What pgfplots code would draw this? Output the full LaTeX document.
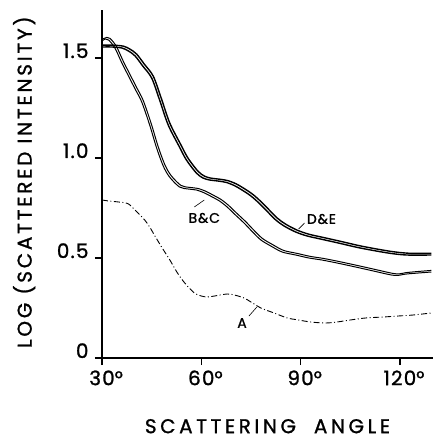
\documentclass[border=0pt]{standalone}
\usepackage{fontspec}
\setmainfont{Poppins}
\newfontfamily\tickfont[LetterSpace=6,FakeBold=1.2]{Poppins}
\newfontfamily\xlabfont[LetterSpace=18,FakeBold=1.2]{Poppins}
\newfontfamily\ylabfont[LetterSpace=14,FakeBold=1.2]{Poppins}
\usepackage{pgfplots}
\pgfplotsset{compat=1.18}

\begin{document}
\begin{tikzpicture}
\begin{axis}[
    scale only axis, width=331bp, height=348bp,
    at={(0,0)}, anchor=south west,
    xmin=30, xmax=130, ymin=0, ymax=1.74,
    axis lines*=left,
    axis line style={line width=2.4pt},
    xtick={30,60,90,120}, ytick={0,0.5,1,1.5},
    xticklabels={30\rlap{°},60\rlap{°},90\rlap{°},120\rlap{°}},
    yticklabels={0,0.5,1.0,1.5},
    tick align=outside, major tick length=7bp,
    tick style={line width=1.4pt, black},
    xticklabel style={font=\fontsize{20}{20}\selectfont\tickfont, yshift=-2bp},
    yticklabel style={font=\fontsize{20}{20}\selectfont\tickfont, anchor=base east, xshift=-3bp},
    xlabel={SCATTERING\hspace{0.9em}ANGLE},
    xlabel style={font=\fontsize{20}{20}\selectfont\xlabfont, inner sep=0pt,
        at={(axis description cs:0.5,-0.196)}, anchor=center},
    ylabel={LOG (SCATTERED INTENSITY)},
    ylabel style={font=\fontsize{20}{20}\selectfont\ylabfont, inner sep=0pt,
        at={(axis description cs:-0.235,0.505)}, anchor=center, rotate=0},
    every axis plot/.append style={black, smooth, tension=0.5},
]
% D & E
\addplot[line width=1.4pt] coordinates {
(30,1.555)(33,1.555)(36,1.55)(38,1.535)(40,1.51)(42.3,1.46)(45,1.40)(47.4,1.29)(50,1.165)
(53.4,1.055)(55.5,0.99)(58.5,0.925)(60.5,0.90)(62.5,0.89)(65,0.885)(67.5,0.878)(70,0.862)
(72.3,0.84)(75,0.81)(77.4,0.775)(79.5,0.74)(82.5,0.69)(85,0.66)(88.5,0.63)(92,0.61)
(96,0.595)(101.4,0.575)(108,0.55)(116.4,0.525)(122,0.515)(129.5,0.515)};
\addplot[line width=1.4pt] coordinates {
(30,1.564)(33.5,1.564)(36.5,1.559)(38.5,1.544)(40.5,1.519)(42.8,1.469)(45.5,1.409)
(47.9,1.299)(50.5,1.174)(53.9,1.064)(56.0,0.999)(59.0,0.934)(61.0,0.909)(63.0,0.899)
(65.5,0.894)(68.0,0.887)(70.5,0.871)(72.8,0.849)(75.5,0.819)(77.9,0.784)(80.0,0.749)
(83.0,0.699)(85.5,0.669)(89.0,0.639)(92.5,0.619)(96.5,0.604)(101.9,0.584)(108.5,0.559)
(116.9,0.534)(122.5,0.524)(129.5,0.523)};
% B & C
\addplot[line width=1pt] coordinates {
(30,1.585)(31,1.595)(32,1.59)(33.9,1.55)(36,1.475)(38,1.41)(40,1.345)(42,1.28)(44.4,1.165)
(46.5,1.05)(48.5,0.96)(50.4,0.905)(53.4,0.855)(56,0.845)(58.5,0.84)(61,0.825)(63.3,0.805)
(65.5,0.785)(67.8,0.755)(70,0.72)(72.9,0.675)(75.5,0.63)(78,0.59)(81,0.56)(84.4,0.53)
(88.5,0.515)(92.5,0.50)(96.4,0.49)(101,0.475)(106.6,0.455)(112,0.435)(117.4,0.415)
(119.5,0.413)(122,0.42)(129.5,0.43)};
\addplot[line width=1pt] coordinates {
(30,1.593)(31.45,1.603)(32.45,1.598)(34.35,1.558)(36.45,1.483)(38.45,1.418)(40.45,1.353)
(42.45,1.288)(44.85,1.173)(46.95,1.058)(48.95,0.968)(50.85,0.913)(53.85,0.863)(56.45,0.853)
(58.95,0.848)(61.45,0.833)(63.75,0.813)(65.95,0.793)(68.25,0.763)(70.45,0.728)(73.35,0.683)
(75.95,0.638)(78.45,0.598)(81.45,0.568)(84.85,0.538)(88.95,0.523)(92.95,0.508)(96.85,0.498)
(101.45,0.483)(107.05,0.463)(112.45,0.443)(117.85,0.423)(119.95,0.421)(122.45,0.428)(129.5,0.438)};
% A
\addplot[line width=0.9pt, dash pattern=on 6bp off 2.5bp on 1bp off 2.5bp] coordinates {
(30,0.79)(32,0.785)(35,0.78)(37.8,0.772)(40,0.74)(42.9,0.69)(44.4,0.655)(46,0.61)(48,0.555)
(50.5,0.49)(52.8,0.425)(55,0.375)(57.9,0.325)(60,0.31)(61.8,0.305)(64,0.31)(67.8,0.32)
(70,0.315)(72.9,0.30)(75,0.28)(78,0.25)(82,0.225)(86,0.20)(89.4,0.19)(93,0.18)(97.5,0.175)
(101,0.18)(105,0.19)(109.6,0.20)(115,0.205)(119.5,0.21)(124,0.215)(129.5,0.225)};
% labels
\node[font=\fontsize{14}{14}\selectfont\tickfont] at (axis cs:60.9,0.70) {B\&C};
\draw[line width=0.6pt] (axis cs:57.9,0.755) -- (axis cs:60.9,0.79);
\node[font=\fontsize{14}{14}\selectfont\tickfont] at (axis cs:96.3,0.695) {D\&E};
\draw[line width=0.6pt] (axis cs:89.4,0.645) -- (axis cs:91.2,0.675);
\node[font=\fontsize{14}{14}\selectfont\tickfont] at (axis cs:72.3,0.175) {A};
\draw[line width=0.6pt] (axis cs:74.4,0.21) -- (axis cs:76.8,0.255);
\end{axis}
\pgfresetboundingbox
\path[use as bounding box] (-102bp,-82bp) rectangle (333bp,358bp);
\end{tikzpicture}
\end{document}
